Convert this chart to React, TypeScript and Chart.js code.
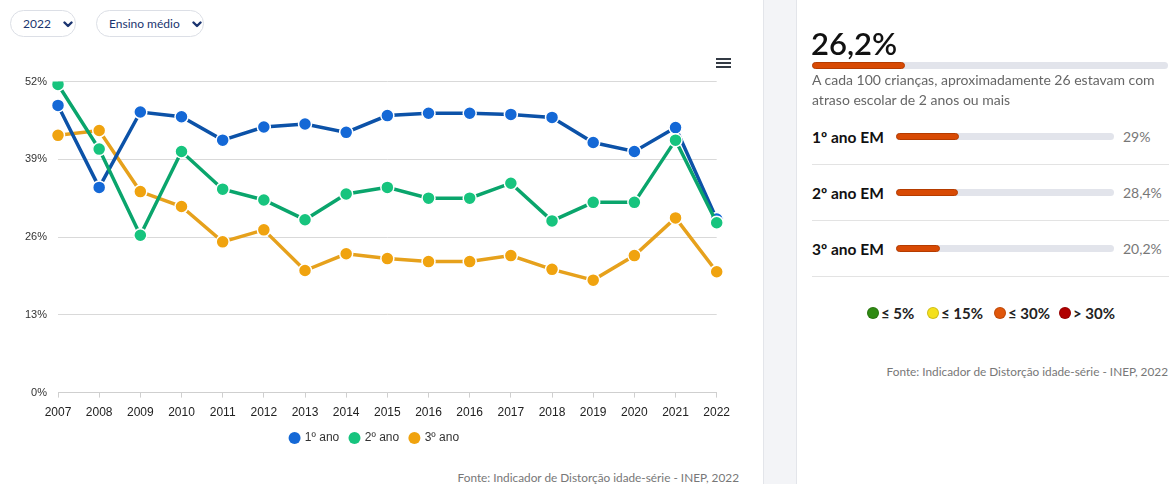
import React, { useEffect, useRef } from "react";
import { Chart, registerables } from "chart.js";

Chart.register(...registerables);

const categories = ["2007", "2008", "2009", "2010", "2011", "2012", "2013", "2014", "2015", "2016", "2016", "2017", "2018", "2019", "2020", "2021", "2022"];
const ano1 = [48.0, 34.3, 46.9, 46.1, 42.2, 44.4, 44.9, 43.5, 46.3, 46.7, 46.7, 46.5, 46.0, 41.8, 40.3, 44.3, 29.0];
const ano2 = [51.5, 40.7, 26.3, 40.3, 34.0, 32.2, 28.9, 33.2, 34.3, 32.5, 32.5, 35.0, 28.7, 31.8, 31.8, 42.2, 28.4];
const ano3 = [43.0, 43.8, 33.6, 31.1, 25.2, 27.2, 20.4, 23.2, 22.4, 21.9, 21.9, 22.9, 20.6, 18.8, 22.9, 29.2, 20.2];
const seriesNames = ["1º ano", "2º ano", "3º ano"];
const yTicks = [0, 13, 26, 39, 52];

const totalValue = 26.2;
const totalLabel = "26,2%";
const rowLabels = ["1º ano EM", "2º ano EM", "3º ano EM"];
const rowValues = [29, 28.4, 20.2];
const rowValueLabels = ["29%", "28,4%", "20,2%"];
const legendRanges = ["≤ 5%", "≤ 15%", "≤ 30%", "> 30%"];
const legendColors = ["#2f8a12", "#f4e01c", "#e0560a", "#b00000"];

const lineColors = ["#0c52a8", "#0aa56c", "#e6a11c"];
const pointColors = ["#1468d6", "#17c47e", "#f0a30f"];

const UI_FONT = "Lato, 'Noto Sans', sans-serif";
const CHART_FONT = "'Liberation Sans', Arial, sans-serif";

function Chevron() {
  return (
    <svg width="10" height="7" viewBox="0 0 10 7" style={{ display: "block" }}>
      <polyline points="1.5,1.5 5,5 8.5,1.5" fill="none" stroke="#1b3570" strokeWidth="2.4" strokeLinecap="round" strokeLinejoin="round" />
    </svg>
  );
}

function Pill({ left, width, text, textLeft, chevLeft }: { left: number; width: number; text: string; textLeft: number; chevLeft: number }) {
  return (
    <div style={{ position: "absolute", left, top: 10, width, height: 27, boxSizing: "border-box", border: "1px solid #dcdfe6", borderRadius: 14, background: "#fff" }}>
      <div style={{ position: "absolute", left: textLeft, top: 0, lineHeight: "25px", fontSize: 12, color: "#1b3570", fontFamily: UI_FONT }}>{text}</div>
      <div style={{ position: "absolute", left: chevLeft, top: 10 }}><Chevron /></div>
    </div>
  );
}

function LineChart() {
  const ref = useRef<HTMLCanvasElement | null>(null);
  useEffect(() => {
    if (!ref.current) return;
    const chart = new Chart(ref.current, {
      type: "line",
      data: {
        labels: categories,
        datasets: [ano1, ano2, ano3].map((d, i) => ({
          label: seriesNames[i],
          data: d,
          borderColor: lineColors[i],
          backgroundColor: pointColors[i],
          borderWidth: 3.5,
          pointRadius: 6.5,
          pointBorderWidth: 1.5,
          pointBorderColor: "#ffffff",
          pointBackgroundColor: pointColors[i],
          tension: 0,
          yAxisID: "y",
          order: i === 1 ? 0 : i === 0 ? 1 : 2,
        })),
      },
      options: {
        animation: false,
        responsive: false,
        maintainAspectRatio: false,
        layout: { padding: { top: 21.5, right: 0.6, bottom: 6, left: 0 } },
        plugins: {
          tooltip: { enabled: false },
          legend: {
            position: "bottom",
            labels: {
              usePointStyle: true,
              pointStyle: "circle",
              boxWidth: 8.5,
              boxHeight: 8.5,
              padding: 11,
              color: "#333",
              font: { family: CHART_FONT, size: 12 },
              sort: (a: any, b: any) => a.datasetIndex - b.datasetIndex,
              generateLabels: (c: any) => {
                const items = (Chart.defaults.plugins.legend.labels as any).generateLabels(c);
                return items.map((it: any) => ({ ...it, fillStyle: pointColors[it.datasetIndex], strokeStyle: pointColors[it.datasetIndex], lineWidth: 0 }));
              },
            },
          },
        },
        scales: {
          x: {
            offset: false,
            grid: { drawOnChartArea: false, drawTicks: true, tickLength: 5, color: "#cfcfcf" },
            border: { display: true, color: "#cfcfcf" },
            ticks: { color: "#222", font: { family: CHART_FONT, size: 12 }, padding: 8, maxRotation: 0, autoSkip: false },
            afterFit: (s: any) => { s.height = 28.4; },
          },
          y: {
            position: "left",
            min: 0,
            max: 52,
            afterBuildTicks: (s: any) => { s.ticks = yTicks.map((v) => ({ value: v })); },
            grid: { drawTicks: false, color: "#d9d9d9" },
            border: { display: false },
            ticks: { color: "#333", font: { family: CHART_FONT, size: 11 }, padding: 11, callback: (v: any) => v + "%" },
            afterFit: (s: any) => { s.width = 58; },
          },
          yRight: {
            position: "right",
            min: 0,
            max: 52,
            grid: { display: false },
            border: { display: false },
            ticks: { display: false },
            afterFit: (s: any) => { s.width = 32.7; },
          },
        },
      },
    });
    return () => chart.destroy();
  }, []);
  return <canvas ref={ref} width={750} height={400} style={{ position: "absolute", left: 0, top: 60, width: 750, height: 400 }} />;
}

function Bar({ left, top, width, value }: { left: number; top: number; width: number; value: number }) {
  return (
    <div style={{ position: "absolute", left, top, width, height: 7, borderRadius: 4, background: "#e2e4eb" }}>
      <div style={{ position: "absolute", left: 0, top: 0, height: 7, width: (width * value) / 100, borderRadius: 4, background: "#d84a04", boxSizing: "border-box", border: "1px solid #b53c00" }} />
    </div>
  );
}

export default function App() {
  const rowCenters = [136.5, 192.5, 248.5];
  return (
    <div style={{ position: "fixed", left: 0, top: 0, width: 1169, height: 484, background: "#fff", overflow: "hidden" }}>
      <Pill left={10} width={66} text="2022" textLeft={12} chevLeft={52} />
      <Pill left={96} width={108} text="Ensino médio" textLeft={12} chevLeft={95} />
      <LineChart />
      <div style={{ position: "absolute", left: 716, top: 58, width: 15 }}>
        {[0, 4, 8].map((o) => (
          <div key={o} style={{ position: "absolute", left: 0, top: o, width: 15, height: 2, background: "#333a44" }} />
        ))}
      </div>
      <div style={{ position: "absolute", right: 1169 - 739, top: 469, fontSize: 11.8, color: "#777", fontFamily: UI_FONT, whiteSpace: "nowrap", lineHeight: "18px" }}>
        Fonte: Indicador de Distorção idade-série - INEP, 2022
      </div>

      <div style={{ position: "absolute", left: 763, top: 0, width: 32, height: 484, background: "#f3f4f7", borderLeft: "1px solid #e3e5ea", borderRight: "1px solid #e3e5ea" }} />

      <div style={{ position: "absolute", left: 811, top: 27, fontSize: 31, lineHeight: "32px", color: "#111", fontFamily: UI_FONT, fontWeight: 600 }}>{totalLabel}</div>
      <Bar left={812} top={62} width={356} value={totalValue} />
      <div style={{ position: "absolute", left: 812, top: 70, width: 356, fontSize: 14, lineHeight: "20px", color: "#666", fontFamily: UI_FONT }}>
        A cada 100 crianças, aproximadamente 26 estavam com atraso escolar de 2 anos ou mais
      </div>
      {rowLabels.map((l, i) => (
        <React.Fragment key={l}>
          <div style={{ position: "absolute", left: 812, top: rowCenters[i] - 10, lineHeight: "20px", fontSize: 15.5, fontWeight: 700, color: "#111", fontFamily: UI_FONT }}>{l}</div>
          <Bar left={896} top={rowCenters[i] - 3.5} width={218} value={rowValues[i]} />
          <div style={{ position: "absolute", left: 1123, top: rowCenters[i] - 10, lineHeight: "20px", fontSize: 14, color: "#777", fontFamily: UI_FONT }}>{rowValueLabels[i]}</div>
          <div style={{ position: "absolute", left: 812, top: rowCenters[i] + 27.5, width: 357, height: 1, background: "#e3e3e3" }} />
        </React.Fragment>
      ))}
      {legendRanges.map((t, i) => {
        const xs = [867, 927, 994, 1059];
        return (
          <div key={t} style={{ position: "absolute", left: xs[i], top: 303, height: 20, display: "flex", alignItems: "center", fontFamily: UI_FONT, fontSize: 15, fontWeight: 700, color: "#222", whiteSpace: "nowrap" }}>
            <div style={{ width: 12, height: 12, borderRadius: 6, background: legendColors[i], marginRight: 2, boxShadow: "inset 0 0 0 1px rgba(0,0,0,0.15)" }} />
            {t}
          </div>
        );
      })}
      <div style={{ position: "absolute", right: 1, top: 363, fontSize: 11.8, color: "#777", fontFamily: UI_FONT, whiteSpace: "nowrap", lineHeight: "18px" }}>
        Fonte: Indicador de Distorção idade-série - INEP, 2022
      </div>
    </div>
  );
}
